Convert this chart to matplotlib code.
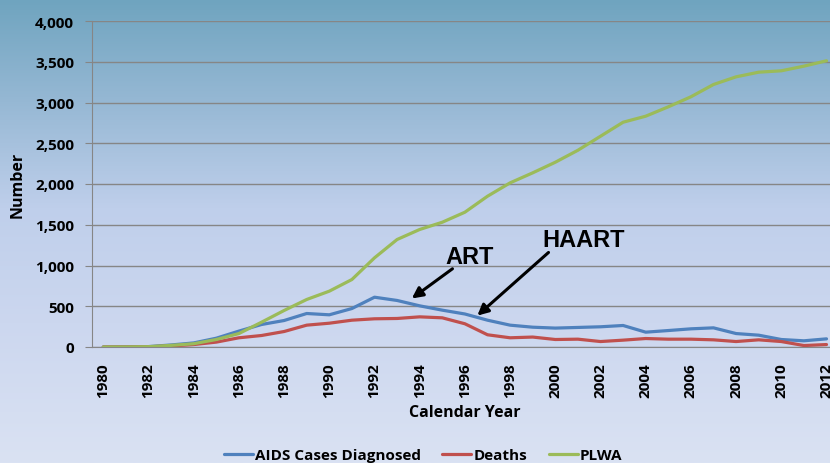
import numpy as np
import matplotlib
matplotlib.use("Agg")
import matplotlib.pyplot as plt
from matplotlib.colors import LinearSegmentedColormap
from matplotlib.ticker import FuncFormatter

years = list(range(1980, 2013))
aids_cases = [0, 2, 5, 25, 50, 108, 195, 276, 325, 411, 395, 472, 611, 571, 505,
              452, 405, 329, 268, 243, 232, 240, 248, 264, 182, 202, 223, 235,
              165, 145, 92, 76, 100]
deaths = [0, 1, 3, 12, 30, 60, 113, 141, 190, 268, 292, 329, 346, 350, 370,
          358, 285, 150, 113, 122, 92, 96, 67, 84, 104, 96, 96, 88, 67, 88,
          67, 18, 30]
plwa = [0, 1, 4, 20, 40, 92, 165, 304, 448, 583, 685, 828, 1094, 1319, 1442,
        1531, 1654, 1850, 2014, 2137, 2267, 2414, 2586, 2758, 2832, 2947, 3070,
        3221, 3315, 3372, 3389, 3446, 3512]
series_names = ["AIDS Cases Diagnosed", "Deaths", "PLWA"]
series_colors = ["#4f81bd", "#c0504d", "#9bbb59"]
yticks = [0, 500, 1000, 1500, 2000, 2500, 3000, 3500, 4000]

W, H = 830, 464
fig = plt.figure(figsize=(W / 100, H / 100), dpi=100)

# background gradient
bg = fig.add_axes([0, 0, 1, 1], zorder=-10)
cmap = LinearSegmentedColormap.from_list(
    "bg", [(0.0, "#6fa4bf"), (0.22, "#96b8d4"), (0.45, "#bfcfeb"),
           (0.7, "#ccd7ef"), (1.0, "#dae2f3")])
grad = np.linspace(0, 1, 256).reshape(-1, 1)
bg.imshow(grad, aspect="auto", cmap=cmap, extent=[0, 1, 0, 1], origin="upper")
bg.set_axis_off()

left = 92 / W
right = (92 + 33 * 22.6) / W
bottom = 1 - 348 / H
top = 1 - 22 / H
ax = fig.add_axes([left, bottom, right - left, top - bottom])
ax.set_facecolor("none")

fname = "Open Sans"
for vals, name, col in zip([aids_cases, deaths, plwa], series_names, series_colors):
    ax.plot(years, vals, color=col, lw=2.3, label=name, solid_capstyle="round")

ax.set_xlim(1979.5, 2012.5)
ax.set_ylim(0, 4000)
ax.set_yticks(yticks)
ax.yaxis.set_major_formatter(FuncFormatter(lambda v, p: f"{int(v):,}"))
ax.set_xticks(years[::2])
ax.set_xticklabels([str(y) for y in years[::2]], rotation=90)
for lab in ax.get_xticklabels() + ax.get_yticklabels():
    lab.set_fontfamily(fname)
    lab.set_fontweight("bold")
    lab.set_fontsize(11)
ax.tick_params(axis="y", length=5, color="#868686", pad=8)
ax.tick_params(axis="x", length=0, pad=11)
ax.grid(axis="y", color="#868686", lw=1.0)
ax.set_axisbelow(True)
for s in ["top", "right"]:
    ax.spines[s].set_visible(False)
ax.spines["left"].set_color("#868686")
ax.spines["bottom"].set_color("#868686")

fig.text(18 / W, 1 - 185 / H, "Number", rotation=90, ha="center", va="center",
         fontfamily=fname, fontweight="bold", fontsize=11.5)
fig.text(465 / W, 1 - 413 / H, "Calendar Year", ha="center", va="center",
         fontfamily=fname, fontweight="bold", fontsize=11.5)

leg = fig.legend(loc="center", bbox_to_anchor=(423 / W, 1 - 456 / H), ncol=3,
                 frameon=False, handlelength=1.9, handletextpad=0.15,
                 columnspacing=1.4, prop={"family": fname, "weight": "bold", "size": 11})

arrow_kw = dict(arrowstyle="-|>", color="black", lw=2.2, mutation_scale=16,
                shrinkA=0, shrinkB=0)
ax.annotate("", xy=(1993.65, 595), xytext=(1995.45, 960), arrowprops=arrow_kw)
ax.annotate("", xy=(1996.55, 385), xytext=(1999.7, 1160), arrowprops=arrow_kw)
ax.text(1996.2, 1115, "ART", ha="center", va="center", fontfamily="Liberation Sans",
        fontweight="bold", fontsize=17)
ax.text(2001.25, 1315, "HAART", ha="center", va="center", fontfamily="Liberation Sans",
        fontweight="bold", fontsize=17)

fig.savefig("out.png", dpi=100)
